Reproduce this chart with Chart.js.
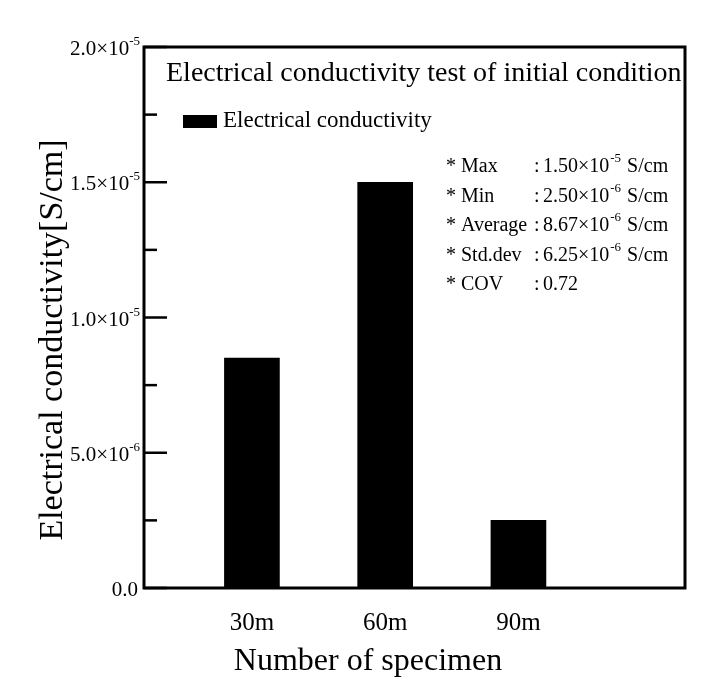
<!DOCTYPE html>
<html>
<head>
<meta charset="utf-8">
<script src="https://cdn.jsdelivr.net/npm/chart.js@4.4.1/dist/chart.umd.min.js"></script>
<style>
  html, body { margin: 0; padding: 0; background: #fff; }
  #wrap { width: 722px; height: 687px; }
</style>
</head>
<body>
<div id="wrap"><canvas id="barChart" width="722" height="687"></canvas></div>
<script>
// data
const categories = ["30m", "60m", "90m"];
const xPositions = [1, 2, 3];
const conductivity = [8.5e-6, 1.5e-5, 2.5e-6];

// y tick labels (mantissa x 10^exp)
const yTickValues = [0, 5e-6, 1e-5, 1.5e-5, 2e-5];
const yTickMantissas = ["0.0", "5.0", "1.0", "1.5", "2.0"];
const yTickExponents = ["", "-6", "-5", "-5", "-5"];

// stats box
const statLabels = ["* Max", "* Min", "* Average", "* Std.dev", "* COV"];
const statValues = ["1.50", "2.50", "8.67", "6.25", "0.72"];
const statExponents = ["-5", "-6", "-6", "-6", ""];
const statUnit = "S/cm";

const chartTitle = "Electrical conductivity test of initial condition";
const xTitle = "Number of specimen";
const yTitle = "Electrical conductivity[S/cm]";
const serif = "'Liberation Serif', 'Times New Roman', serif";

// draws frame, inward ticks, y labels, titles, legend and stats text
const decorations = {
  id: "decorations",
  afterDatasetsDraw(chart) {
    const ctx = chart.ctx;
    const area = chart.chartArea;
    const yScale = chart.scales.y;
    ctx.save();
    ctx.fillStyle = "#000";
    ctx.strokeStyle = "#000";

    // frame
    ctx.lineWidth = 3;
    ctx.strokeRect(area.left, area.top, area.right - area.left, area.bottom - area.top);

    // inward tick marks on the y axis
    ctx.lineWidth = 2.5;
    yScale.ticks.forEach((t) => {
      const y = yScale.getPixelForValue(t.value);
      const major = yTickValues.some((v) => Math.abs(v - t.value) < 1e-9);
      ctx.beginPath();
      ctx.moveTo(area.left, y);
      ctx.lineTo(area.left + (major ? 23 : 13), y);
      ctx.stroke();
    });

    // y tick labels with superscript exponent
    ctx.textBaseline = "alphabetic";
    yTickValues.forEach((v, i) => {
      const y = yScale.getPixelForValue(v) + 8;
      const exp = yTickExponents[i];
      let right = area.left - 4;
      if (exp) {
        ctx.font = "13px " + serif;
        ctx.textAlign = "right";
        ctx.fillText(exp, right, y - 10);
        right -= ctx.measureText(exp).width;
        ctx.font = "21px " + serif;
        ctx.fillText(yTickMantissas[i] + "\u00d710", right, y);
      } else {
        ctx.font = "21px " + serif;
        ctx.textAlign = "right";
        ctx.fillText(yTickMantissas[i], area.left - 6, y);
      }
    });

    // axis titles
    ctx.font = "32px " + serif;
    ctx.textAlign = "center";
    ctx.fillText(xTitle, 368, 670);
    ctx.save();
    ctx.translate(62, 340);
    ctx.rotate(-Math.PI / 2);
    ctx.font = "34px " + serif;
    ctx.fillText(yTitle, 0, 0);
    ctx.restore();

    // inner title
    ctx.font = "28px " + serif;
    ctx.textAlign = "left";
    ctx.fillText(chartTitle, area.left + 22, area.top + 34);

    // legend
    const ds = chart.data.datasets[0];
    ctx.fillStyle = ds.backgroundColor;
    ctx.fillRect(area.left + 39, area.top + 68, 34, 13);
    ctx.fillStyle = "#000";
    ctx.font = "23px " + serif;
    ctx.fillText(ds.label, area.left + 79, area.top + 80);

    // stats
    statLabels.forEach((lab, i) => {
      const y = 172 + i * 29.5;
      ctx.font = "20px " + serif;
      ctx.textAlign = "left";
      ctx.fillText(lab, 446, y);
      ctx.fillText(":", 534, y);
      let x = 543;
      const exp = statExponents[i];
      if (exp) {
        const txt = statValues[i] + "\u00d710";
        ctx.fillText(txt, x, y);
        x += ctx.measureText(txt).width;
        ctx.font = "13px " + serif;
        ctx.fillText(exp, x + 1, y - 10);
        x += ctx.measureText(exp).width + 7;
        ctx.font = "20px " + serif;
        ctx.fillText(statUnit, x, y);
      } else {
        ctx.fillText(statValues[i], x, y);
      }
    });
    ctx.restore();
  },
};

const chartData = {
  datasets: [
    {
      label: "Electrical conductivity",
      data: xPositions.map((x, i) => ({ x: x, y: conductivity[i] })),
      backgroundColor: "#000000",
      borderWidth: 0,
      barThickness: 55,
    },
  ],
};

const chartConfig = {
  type: "bar",
  data: chartData,
  options: {
    responsive: false,
    animation: false,
    layout: { padding: { top: 47, right: 37, left: 0, bottom: 0 } },
    scales: {
      x: {
        type: "linear",
        offset: false,
        min: 0.19,
        max: 4.25,
        grid: { display: false, drawTicks: false, offset: false },
        border: { display: false },
        afterBuildTicks: (scale) => {
          scale.ticks = xPositions.map((v) => ({ value: v }));
        },
        afterFit: (scale) => {
          scale.height = 99;
        },
        ticks: {
          padding: 20,
          color: "#000",
          font: { family: serif, size: 25 },
          callback: (value) => {
            const i = xPositions.indexOf(value);
            return i >= 0 ? categories[i] : "";
          },
        },
      },
      y: {
        min: 0,
        max: 2e-5,
        grid: { display: false, drawTicks: false },
        border: { display: false },
        afterFit: (scale) => {
          scale.width = 144;
        },
        ticks: { stepSize: 2.5e-6, display: false },
      },
    },
    plugins: {
      legend: { display: false },
      tooltip: { enabled: false },
    },
  },
  plugins: [decorations],
};

const barChart = new Chart(document.getElementById("barChart"), chartConfig);
</script>
</body>
</html>
